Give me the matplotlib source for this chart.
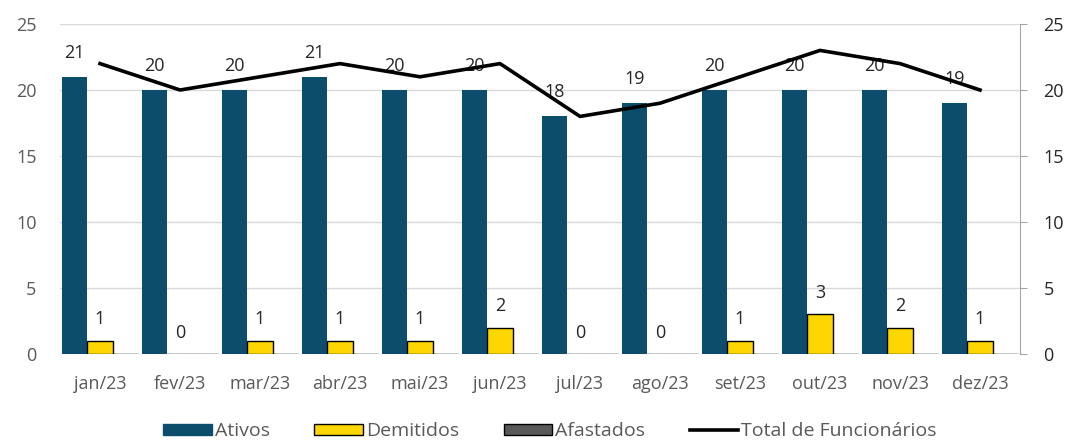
import numpy as np
import matplotlib.pyplot as plt
from matplotlib.patches import Patch
from matplotlib.lines import Line2D

plt.rcParams['font.family'] = ['Open Sans', 'DejaVu Sans']

meses = ['jan/23', 'fev/23', 'mar/23', 'abr/23', 'mai/23', 'jun/23',
         'jul/23', 'ago/23', 'set/23', 'out/23', 'nov/23', 'dez/23']
ativos = [21, 20, 20, 21, 20, 20, 18, 19, 20, 20, 20, 19]
demitidos = [1, 0, 1, 1, 1, 2, 0, 0, 1, 3, 2, 1]
afastados = [0, 0, 0, 0, 0, 0, 0, 0, 0, 0, 0, 0]
total = [22, 20, 21, 22, 21, 22, 18, 19, 21, 23, 22, 20]

c_ativos = '#0b4d6b'
c_dem = '#ffd700'
c_afa = '#595959'
txt = '#262626'
tick_c = '#595959'

x = np.arange(len(meses))
w = 0.315

fig = plt.figure(figsize=(10.72, 4.42), dpi=100)
ax = fig.add_axes([0.056, 0.199, 0.8955, 0.7467])

ax.bar(x - w, ativos, w, color=c_ativos, zorder=2)
ax.bar(x, demitidos, w, color=c_dem, edgecolor='black', linewidth=1, zorder=2)
ax.bar(x + w, afastados, w, color=c_afa, edgecolor='black', linewidth=1, zorder=2)

for xi, v in zip(x - w, ativos):
    ax.annotate(str(v), (xi, v), xytext=(0, 11), textcoords='offset points',
                ha='center', va='bottom', fontsize=13, color=txt)
for xi, v in zip(x, demitidos):
    ax.annotate(str(v), (xi, v), xytext=(0, 9), textcoords='offset points',
                ha='center', va='bottom', fontsize=13, color=txt)

ax.set_xlim(-0.5, len(meses) - 0.5)
ax.set_ylim(0, 25)
ax.set_yticks(range(0, 26, 5))
ax.set_xticks(x)
ax.set_xticklabels(meses)
ax.grid(axis='y', color='#d9d9d9', linewidth=1, zorder=0)
ax.set_axisbelow(True)
for s in ax.spines.values():
    s.set_visible(False)
ax.tick_params(axis='both', length=0, labelsize=13, colors=tick_c)
ax.tick_params(axis='x', pad=15)
ax.tick_params(axis='y', pad=17)

ax2 = ax.twinx()
ax2.plot(x, total, color='black', linewidth=2.6, zorder=5)
ax2.set_ylim(0, 25)
ax2.set_yticks(range(0, 26, 5))
for s in ['top', 'left', 'bottom']:
    ax2.spines[s].set_visible(False)
ax2.spines['right'].set_color('#a6a6a6')
ax2.tick_params(axis='y', length=5, color='#a6a6a6', labelsize=13, labelcolor='#262626', pad=12)

handles = [
    Patch(facecolor=c_ativos, edgecolor=c_ativos),
    Patch(facecolor=c_dem, edgecolor='black'),
    Patch(facecolor=c_afa, edgecolor='black'),
    Line2D([0], [0], color='black', linewidth=2.6),
]
labels = ['Ativos', 'Demitidos', 'Afastados', 'Total de Funcionários']
fig.legend(handles, labels, loc='lower center', bbox_to_anchor=(0.513, -0.035), ncol=4,
           frameon=False, fontsize=14, labelcolor=tick_c, handlelength=2.5,
           handleheight=0.5, handletextpad=0.15, columnspacing=2.3)

fig.savefig('out.png', dpi=100)
